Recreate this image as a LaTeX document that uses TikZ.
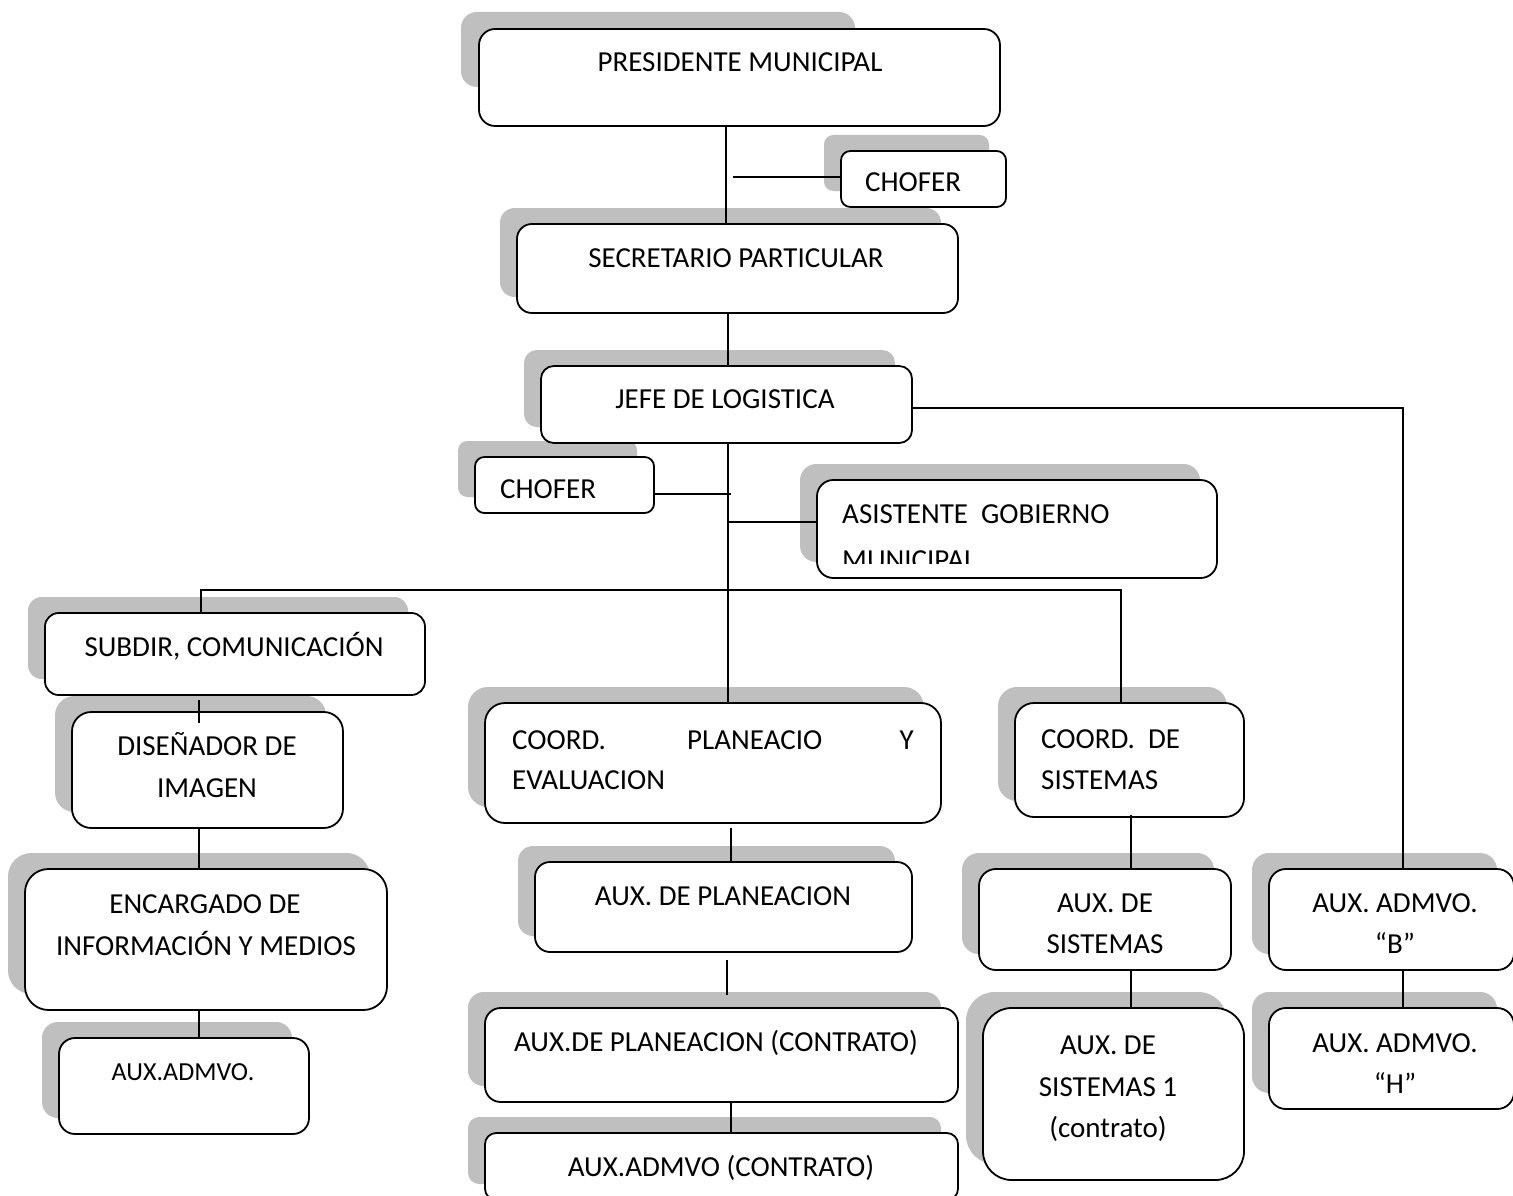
\documentclass[tikz,border=0pt]{standalone}
\usepackage{fontspec}
\setmainfont{Carlito}
\definecolor{shadowgray}{HTML}{BFBFBF}
\begin{document}
\begin{tikzpicture}[x=1pt,y=-1pt,
  box/.style={draw=black, line width=1.8pt, fill=white, inner sep=0pt, outer sep=0pt},
  conn/.style={draw=black, line width=1.8pt},
  txt/.style={inner sep=0pt, anchor=base, font=\fontsize{29}{42}\selectfont},
  txtl/.style={txt, anchor=base west},
  txtr/.style={txt, anchor=base east},
  shad/.style={fill=shadowgray}]
\useasboundingbox (0,0) rectangle (1513,1196);
\fill[white] (0,0) rectangle (1513,1196);

\def\presname{pres}
\def\boxlist{pres/479/29/1000/126, chofA/841/151/1006/207, sec/517/224/958/313,
  jefe/541/366/912/443, chofB/475/457/654/513, asis/817/480/1217/578,
  subdir/45/613/425/695, dis/72/712/343/828, enc/25/869/387/1010,
  auxadm/59/1038/309/1134, coordp/485/703/941/823, auxpl/535/862/912/952,
  auxplc/485/1008/958/1102, auxadc/485/1133/958/1200, coords/1015/703/1244/817,
  auxsis/979/869/1231/970, auxsis1/983/1008/1244/1180, admB/1269/869/1514/970,
  admH/1269/1008/1514/1109}

% shadows
\fill[shad, rounded corners=16pt] (461,12) rectangle (855,87);
\foreach \n/\a/\b/\c/\d in \boxlist {
  \ifx\n\presname\else
  \pgfmathsetmacro\r{min(\c-\a,\d-\b)/6}
  \fill[shad, rounded corners=\r pt] (\a-17,\b-16) rectangle (\c-17,\d-16);
  \fi
}

% boxes
\foreach \n/\a/\b/\c/\d in \boxlist {
  \pgfmathsetmacro\r{min(\c-\a,\d-\b)/6}
  \pgfmathsetmacro\w{\c-\a}
  \pgfmathsetmacro\h{\d-\b}
  \pgfmathsetmacro\cx{(\a+\c)/2}
  \pgfmathsetmacro\cy{(\b+\d)/2}
  \node[box, rounded corners=\r pt, minimum width=\w pt, minimum height=\h pt] (\n) at (\cx,\cy) {};
}

% texts
\node[txt] (t1) at (740,72) {PRESIDENTE MUNICIPAL};
\node[txtl] (t2) at (865,192) {CHOFER};
\node[txt] (t3) at (736,267) {SECRETARIO PARTICULAR};
\node[txt] (t4) at (725,408) {JEFE DE LOGISTICA};
\node[txtl] (t5) at (500,498) {CHOFER};
\node[txtl] (t6) at (842,523) {ASISTENTE~~GOBIERNO};
\begin{scope}
  \clip (817,480) rectangle (1217,563);
  \node[txtl] (t7) at (842,569) {MUNICIPAL};
\end{scope}
\node[txt] (t8) at (234,656) {SUBDIR, COMUNICACIÓN};
\node[txt] (t9) at (207,755) {DISEÑADOR DE};
\node[txt] (t10) at (207,797) {IMAGEN};
\node[txt] (t11) at (205,913) {ENCARGADO DE};
\node[txt] (t12) at (206,955) {INFORMACIÓN Y MEDIOS};
\node[txt, font=\fontsize{26}{36}\selectfont] (t13) at (183,1080) {AUX.ADMVO.};
\node[txtl] (t14) at (512,749) {COORD.};
\node[txtl] (t15) at (687,749) {PLANEACIO};
\node[txtr] (t16) at (914,749) {Y};
\node[txtl] (t17) at (512,789) {EVALUACION};
\node[txt] (t18) at (723,905) {AUX. DE PLANEACION};
\node[txt] (t19) at (716,1051) {AUX.DE PLANEACION (CONTRATO)};
\node[txt] (t20) at (721,1176) {AUX.ADMVO (CONTRATO)};
\node[txtl] (t21) at (1041,748) {COORD.~~DE};
\node[txtl] (t22) at (1041,789) {SISTEMAS};
\node[txt] (t23) at (1105,912) {AUX. DE};
\node[txt] (t24) at (1105,953) {SISTEMAS};
\node[txt] (t25) at (1108,1054) {AUX. DE};
\node[txt] (t26) at (1108,1096) {SISTEMAS 1};
\node[txt] (t27) at (1108,1137) {(contrato)};
\node[txt] (t28) at (1395,912) {AUX. ADMVO.};
\node[txt] (t29) at (1395,953) {“B”};
\node[txt] (t30) at (1395,1052) {AUX. ADMVO.};
\node[txt] (t31) at (1395,1093) {“H”};

% connectors
\coordinate (jA) at (733,177);
\coordinate (jB) at (731,494);
\coordinate (jC) at (728,522);
\coordinate (hL) at (201,590);
\coordinate (hR) at (1121,590);
\coordinate (jR) at (1403,408);
\coordinate (s1) at (199,700);
\coordinate (s2) at (199,723);
\coordinate (p1) at (731,828);
\coordinate (p2) at (727,960);
\coordinate (p3) at (727,995);
\coordinate (q1) at (1131,815);

\draw[conn] (pres.south -| 726,0) -- (sec.north -| 726,0);
\draw[conn] (jA) -- (jA -| chofA.west);
\draw[conn] (sec.south -| 728,0) -- (jefe.north -| 728,0);
\draw[conn] (jefe.south -| 728,0) -- (coordp.north -| 728,0);
\draw[conn] (chofB.east |- jB) -- (jB);
\draw[conn] (jC) -- (jC -| asis.west);
\draw[conn] (subdir.north -| hL) -- (hL) -- (hR) -- (coords.north -| hR);
\draw[conn] (jefe.east |- jR) -- (jR) -- (admB.north -| jR);
\draw[conn] (s1) -- (s2);
\draw[conn] (dis.south -| 199,0) -- (enc.north -| 199,0);
\draw[conn] (enc.south -| 199,0) -- (auxadm.north -| 199,0);
\draw[conn] (p1) -- (auxpl.north -| p1);
\draw[conn] (p2) -- (p3);
\draw[conn] (auxplc.south -| 731,0) -- (auxadc.north -| 731,0);
\draw[conn] (q1) -- (auxsis.north -| q1);
\draw[conn] (auxsis.south -| 1131,0) -- (auxsis1.north -| 1131,0);
\draw[conn] (admB.south -| 1403,0) -- (admH.north -| 1403,0);
\end{tikzpicture}
\end{document}
